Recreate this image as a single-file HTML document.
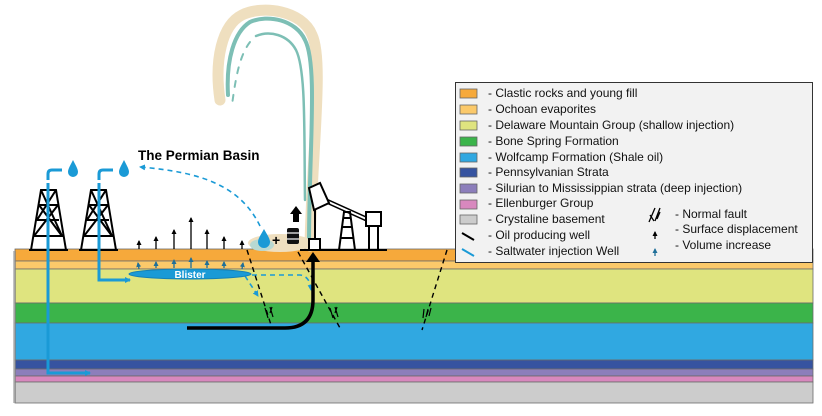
<!DOCTYPE html>
<html><head><meta charset="utf-8"><style>
html,body{margin:0;padding:0;background:#fff;width:822px;height:416px;overflow:hidden}
svg{display:block;font-family:"Liberation Sans",sans-serif}
</style></head><body>
<svg width="822" height="416" viewBox="0 0 822 416" xmlns="http://www.w3.org/2000/svg">
<defs>
<marker id="ab" markerWidth="6" markerHeight="6" refX="5" refY="3" orient="auto" markerUnits="userSpaceOnUse"><path d="M0,0 L6,3 L0,6 z" fill="#1a9ad6"/></marker>
<marker id="ak" markerWidth="6" markerHeight="6" refX="4" refY="3" orient="auto" markerUnits="userSpaceOnUse"><path d="M0,0.5 L5,3 L0,5.5 z" fill="#000"/></marker>
<marker id="at" markerWidth="6" markerHeight="6" refX="4" refY="3" orient="auto" markerUnits="userSpaceOnUse"><path d="M0,0.5 L5,3 L0,5.5 z" fill="#1f6f99"/></marker>
</defs>
<!-- layers -->
<g stroke="#6b6b6b" stroke-width="0.8">
<rect x="15" y="249" width="798" height="12" fill="#f6a93b"/>
<rect x="15" y="261" width="798" height="8" fill="#fbc96a"/>
<rect x="15" y="269" width="798" height="34" fill="#dfe47f"/>
<rect x="15" y="303" width="798" height="20" fill="#3bb44a"/>
<rect x="15" y="323" width="798" height="37" fill="#30a8e1"/>
<rect x="15" y="360" width="798" height="9" fill="#3653a0"/>
<rect x="15" y="369" width="798" height="7" fill="#8c7ebb"/>
<rect x="15" y="376" width="798" height="6" fill="#d888be"/>
<rect x="15" y="382" width="798" height="21" fill="#cccccc"/>
</g>
<rect x="13" y="251" width="3" height="152" fill="#888" opacity="0.5"/>
<!-- gusher -->
<g fill="none" stroke-linecap="round">
<path d="M310,246 C312,150 324,60 312,35 C302,10 262,5 242,15 C222,25 214,60 220,100" stroke="#efdfbf" stroke-width="11"/>
<path d="M309,244 C309,150 318,65 305,40 C296,20 268,14 250,22 C234,32 226,60 228,95" stroke="#7dbfb5" stroke-width="4"/>
<path d="M305,200 C304,130 306,70 296,50 C288,35 270,30 256,36" stroke="#7dbfb5" stroke-width="2.5"/>
<path d="M250,42 C240,55 236,75 232,105" stroke="#7dbfb5" stroke-width="2" stroke-dasharray="6 8"/>
</g>
<!-- mound -->
<ellipse cx="280" cy="243" rx="32" ry="9" fill="#efdfbf"/>
<ellipse cx="262" cy="245" rx="12" ry="6" fill="#b8d9d2"/>
<!-- drop + barrel -->
<path d="M264,229 C260,236 258,239 258,242 A6,6 0 0 0 270,242 C270,239 268,236 264,229z" fill="#1a9ad6"/>
<text x="272" y="245" font-size="14" font-weight="bold">+</text>
<rect x="287" y="228" width="12" height="16" rx="2" fill="#111"/>
<line x1="287" y1="233" x2="299" y2="233" stroke="#fff" stroke-width="1.2"/><line x1="287" y1="239" x2="299" y2="239" stroke="#fff" stroke-width="1.2"/>
<path d="M296,206 L302,214 L299,214 L299,222 L293,222 L293,214 L290,214z" fill="#000"/>
<!-- pumpjack -->
<g stroke="#000" stroke-width="2" fill="#fff">
<line x1="300" y1="250" x2="387" y2="250"/>
<line x1="315" y1="240" x2="315" y2="205"/>
<path d="M322,199 L373,222" stroke-width="5"/>
<path d="M322,199 L373,222" stroke="#fff" stroke-width="2"/>
<path d="M339,250 L344,212 L350,212 L355,250 M341,238 L353,238 M342,227 L352,227 M343,218 L351,218" fill="none"/>
<rect x="366" y="212" width="15" height="14"/>
<path d="M369,226 L369,250 M378,226 L378,250" fill="none"/>
<path d="M309,188 L320,183 L329,203 L314,210z"/>
<rect x="309" y="239" width="11" height="11"/>
</g>
<!-- derricks -->
<g stroke="#000" stroke-width="2" fill="none">
<path d="M31,250 L41,190 L56,190 L66,250 M29,250 L68,250 M41,190 L62,236 L34,236 M56,190 L37,220 L59,220 M39,205 L58,205 M39,205 L62,236 M58,205 L34,236"/>
<path d="M81,250 L91,190 L106,190 L116,250 M79,250 L118,250 M91,190 L112,236 L84,236 M106,190 L87,220 L109,220 M89,205 L108,205 M89,205 L112,236 M108,205 L84,236"/>
</g>
<!-- injection pipes -->
<g fill="none" stroke="#1a9ad6" stroke-width="3">
<path d="M48,183 L48,373 L90,373" marker-end="url(#ab)"/>
<path d="M48,180 L48,174 Q48,170 52,170 L62,170"/>
<path d="M99,183 L99,280 L130,280" marker-end="url(#ab)"/>
<path d="M99,180 L99,174 Q99,170 103,170 L113,170"/>
</g>
<path d="M73,160 C70,166 68,169 68,172 A5,5 0 0 0 78,172 C78,169 76,166 73,160z" fill="#1a9ad6"/>
<path d="M124,160 C121,166 119,169 119,172 A5,5 0 0 0 129,172 C129,169 127,166 124,160z" fill="#1a9ad6"/>
<text x="138" y="160" font-size="13.5" font-weight="bold">The Permian Basin</text>
<!-- dashed blue -->
<g fill="none" stroke="#1a9ad6" stroke-width="1.6" stroke-dasharray="5 4">
<path d="M260,226 C240,185 200,172 140,167" marker-end="url(#ab)"/>
<path d="M245,276 L258,296" marker-end="url(#ab)"/>
<path d="M252,275 L300,275 Q310,276 311,290" marker-end="url(#ab)"/>
</g>
<!-- blister -->
<ellipse cx="190" cy="274" rx="61" ry="5" fill="#1a9ad6" stroke="#1580b5"/>
<text x="190" y="278" font-size="10" font-weight="bold" fill="#fff" text-anchor="middle">Blister</text>
<!-- surface displacement arrows -->
<g stroke="#000" stroke-width="1.3" marker-end="url(#ak)">
<line x1="139" y1="249" x2="139" y2="241"/><line x1="156" y1="249" x2="156" y2="237"/><line x1="174" y1="249" x2="174" y2="230"/><line x1="191" y1="249" x2="191" y2="218"/><line x1="207" y1="249" x2="207" y2="230"/><line x1="224" y1="249" x2="224" y2="237"/><line x1="242" y1="249" x2="242" y2="241"/>
</g>
<g stroke="#1f6f99" stroke-width="1.3" marker-end="url(#at)">
<line x1="139" y1="269" x2="138" y2="263"/><line x1="156" y1="268" x2="156" y2="262"/><line x1="174" y1="268" x2="174" y2="260"/><line x1="191" y1="268" x2="191" y2="258"/><line x1="207" y1="268" x2="207" y2="261"/><line x1="224" y1="268" x2="224" y2="262"/><line x1="242" y1="269" x2="243" y2="263"/>
</g>
<!-- faults -->
<g stroke="#000" stroke-width="1.4" fill="none" stroke-dasharray="5 4">
<line x1="247" y1="250" x2="272" y2="328"/>
<line x1="298" y1="252" x2="340" y2="328"/>
<line x1="447" y1="250" x2="422" y2="330"/>
</g>
<g stroke="#000" stroke-width="1.2" fill="none">
<path d="M265,308 L268,318 M270,307 L273,317 M272,307 L270,313"/>
<path d="M330,308 L333,318 M335,307 L338,317 M337,307 L335,313"/>
<path d="M424,309 L423,318 M428,309 L426,317 M431,308 L429,316"/>
</g>
<!-- oil well -->
<path d="M187,328 L285,328 Q313,328 313,300 L313,262" fill="none" stroke="#000" stroke-width="3.5"/>
<path d="M306,262 L313,252 L320,262z" fill="#000"/>
<!-- legend -->
<rect x="455.5" y="82.5" width="357" height="180" fill="#f2f2f2" stroke="#333" stroke-width="1"/>
<g stroke="#666" stroke-width="0.8">
<rect x="460" y="89" width="17" height="9" fill="#f6a93b"/>
<rect x="460" y="105" width="17" height="9" fill="#fbc96a"/>
<rect x="460" y="121" width="17" height="9" fill="#dfe47f"/>
<rect x="460" y="137" width="17" height="9" fill="#3bb44a"/>
<rect x="460" y="153" width="17" height="9" fill="#30a8e1"/>
<rect x="460" y="168" width="17" height="9" fill="#3653a0"/>
<rect x="460" y="184" width="17" height="9" fill="#8c7ebb"/>
<rect x="460" y="200" width="17" height="9" fill="#d888be"/>
<rect x="460" y="215" width="17" height="9" fill="#cccccc"/>
</g>
<line x1="462" y1="233" x2="474" y2="240" stroke="#000" stroke-width="2"/>
<line x1="462" y1="249" x2="474" y2="256" stroke="#1a9ad6" stroke-width="2"/>
<g font-size="12" fill="#111">
<text x="488" y="97">- Clastic rocks and young fill</text>
<text x="488" y="113">- Ochoan evaporites</text>
<text x="488" y="129">- Delaware Mountain Group (shallow injection)</text>
<text x="488" y="145">- Bone Spring Formation</text>
<text x="488" y="161">- Wolfcamp Formation (Shale oil)</text>
<text x="488" y="176">- Pennsylvanian Strata</text>
<text x="488" y="192">- Silurian to Mississippian strata (deep injection)</text>
<text x="488" y="207">- Ellenburger Group</text>
<text x="488" y="223">- Crystaline basement</text>
<text x="488" y="239">- Oil producing well</text>
<text x="488" y="255">- Saltwater injection Well</text>
<text x="675" y="218">- Normal fault</text>
<text x="675" y="233">- Surface displacement</text>
<text x="675" y="249">- Volume increase</text>
</g>
<g stroke="#000" stroke-width="1.3" fill="none">
<path d="M650,215 L654,221 M655,208 L649,222 M660,208 L655,221 M660,212 L657,219"/>
</g>
<line x1="655" y1="239" x2="655" y2="232" stroke="#000" stroke-width="1.3" marker-end="url(#ak)"/>
<line x1="655" y1="256" x2="655" y2="249" stroke="#1f6f99" stroke-width="1.3" marker-end="url(#at)"/>
</svg>
</body></html>
